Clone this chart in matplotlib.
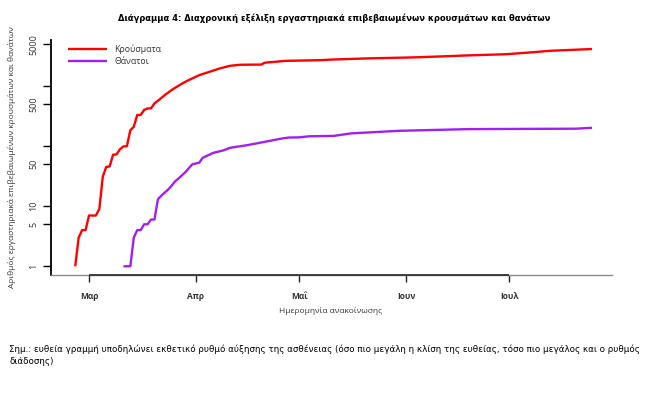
import matplotlib
matplotlib.use('Agg')
import matplotlib.pyplot as plt
import matplotlib.dates as mdates
import numpy as np

# ---------------- data ----------------
case_dates = ['2020-02-26', '2020-02-27', '2020-02-28', '2020-02-29', '2020-03-01',
              '2020-03-03', '2020-03-04', '2020-03-05', '2020-03-06', '2020-03-07',
              '2020-03-08', '2020-03-09', '2020-03-10', '2020-03-11', '2020-03-12',
              '2020-03-13', '2020-03-14', '2020-03-15', '2020-03-16', '2020-03-17',
              '2020-03-18', '2020-03-19', '2020-03-20', '2020-03-21', '2020-03-23',
              '2020-03-25', '2020-03-28', '2020-03-30', '2020-04-02', '2020-04-05',
              '2020-04-08', '2020-04-11', '2020-04-14', '2020-04-20', '2020-04-21',
              '2020-04-27', '2020-05-07', '2020-05-11', '2020-05-21', '2020-06-04',
              '2020-06-19', '2020-06-30', '2020-07-06', '2020-07-13', '2020-07-25']
case_values = [1, 3, 4, 4, 7,
               7, 9, 31, 45, 46,
               72, 73, 89, 99, 100,
               184, 210, 330, 331, 400,
               425, 425, 515, 569, 708,
               860, 1100, 1260, 1520, 1730,
               1970, 2180, 2265, 2280, 2450,
               2630, 2700, 2770, 2890, 3010,
               3240, 3390, 3590, 3870, 4140]

death_dates = ['2020-03-11', '2020-03-13', '2020-03-14', '2020-03-15', '2020-03-16',
               '2020-03-17', '2020-03-18', '2020-03-19', '2020-03-20', '2020-03-21',
               '2020-03-22', '2020-03-24', '2020-03-25', '2020-03-26', '2020-03-27',
               '2020-03-29', '2020-03-31', '2020-04-02', '2020-04-03', '2020-04-06',
               '2020-04-09', '2020-04-11', '2020-04-16', '2020-04-21', '2020-04-26',
               '2020-04-28', '2020-05-01', '2020-05-04', '2020-05-11', '2020-05-16',
               '2020-05-30', '2020-06-19', '2020-07-08', '2020-07-20', '2020-07-25']
death_values = [1, 1, 3, 4, 4,
                5, 5, 6, 6, 13,
                15, 19, 22, 26, 29,
                37, 50, 53, 64, 77,
                85, 94, 104, 118, 134,
                139, 140, 146, 148, 163,
                180, 192, 194, 195, 202]

series_labels = ['Κρούσματα', 'Θάνατοι']
month_ticks = ['2020-03-01', '2020-04-01', '2020-05-01', '2020-06-01', '2020-07-01']
month_labels = ['Μαρ', 'Απρ', 'Μαΐ', 'Ιουν', 'Ιουλ']
y_ticks = [1, 5, 10, 50, 100, 500, 1000, 5000]
y_tick_labels = ['1', '5', '10', '50', '', '500', '', '5000']

title_text = 'Διάγραμμα 4: Διαχρονική εξέλιξη εργαστηριακά επιβεβαιωμένων κρουσμάτων και θανάτων'
x_label = 'Ημερομηνία ανακοίνωσης'
y_label = 'Αριθμός εργαστηριακά επιβεβαιωμένων κρουσμάτων και θανάτων'
note_line1 = ('Σημ.: ευθεία γραμμή υποδηλώνει εκθετικό ρυθμό αύξησης της ασθένειας '
              '(όσο πιο μεγάλη η κλίση της ευθείας, τόσο πιο μεγάλος και ο ρυθμός')
note_line2 = 'διάδοσης)'

# ---------------- figure ----------------
W, H = 647, 396
DPI = 100
plt.rcParams['font.family'] = ['Open Sans', 'DejaVu Sans']
fig = plt.figure(figsize=(W / DPI, H / DPI), dpi=DPI)
fig.patch.set_facecolor('white')

ax_l, ax_r, ax_t, ax_b = 51, 612, 40.3, 275
ax = fig.add_axes([ax_l / W, 1 - ax_b / H, (ax_r - ax_l) / W, (ax_b - ax_t) / H])

cd = np.array(case_dates, dtype='datetime64[D]')
dd = np.array(death_dates, dtype='datetime64[D]')
ax.plot(cd, case_values, color='#ff0000', lw=1.7, solid_joinstyle='round',
        solid_capstyle='butt', label=series_labels[0])
ax.plot(dd, death_values, color='#a020f0', lw=1.7, solid_joinstyle='round',
        solid_capstyle='butt', label=series_labels[1])

ax.set_yscale('log')
ax.set_ylim(10 ** -0.145, 10 ** 3.762)
mar1 = mdates.date2num(np.datetime64(month_ticks[0]))
ax.set_xlim(mar1 - 11.03, mar1 + 151.8)

ax.set_yticks(y_ticks)
ax.set_yticklabels(y_tick_labels)
ax.yaxis.set_minor_locator(matplotlib.ticker.NullLocator())
ax.tick_params(axis='y', which='major', length=6, width=1.0, color='black',
               labelsize=6.5, labelrotation=90, pad=3, labelcolor='#333333')
for lab in ax.get_yticklabels():
    lab.set_va('center')

xt = [mdates.date2num(np.datetime64(m)) for m in month_ticks]
ax.set_xticks(xt)
ax.set_xticklabels(month_labels, fontweight='bold')
ax.tick_params(axis='x', which='major', length=5, width=1.0, color='#222222',
               labelsize=6, pad=7, labelcolor='#333333')

for s in ['top', 'right']:
    ax.spines[s].set_visible(False)
ax.spines['left'].set_color('black')
ax.spines['left'].set_linewidth(1.3)
ax.spines['bottom'].set_color('#8a8a8a')
ax.spines['bottom'].set_linewidth(1.0)
# R-style axis line from first to last tick
ax.plot([xt[0], xt[-1]], [10 ** -0.145] * 2, color='#333333', lw=1.3,
        clip_on=False, solid_capstyle='butt', zorder=5)

leg = ax.legend(loc='upper left', bbox_to_anchor=(68 / W, 1 - 44 / H),
                bbox_transform=fig.transFigure, frameon=False, fontsize=6.3,
                handlelength=4.4, handletextpad=0.9, labelspacing=0.35,
                borderpad=0, borderaxespad=0)
for t in leg.get_texts():
    t.set_color('#333333')

fig.text(331 / W, 1 - 311 / H, x_label, ha='center', va='center', fontsize=6,
         color='#333333')
fig.text(12 / W, 1 - 157 / H, y_label, ha='center', va='center', rotation=90,
         fontsize=6, color='#333333')

title = fig.text(334 / W, 1 - 18 / H, title_text, ha='center', va='center',
                 fontsize=7.5, fontweight='bold', color='black',
                 family=['Liberation Sans Narrow', 'DejaVu Sans'])
note1 = fig.text(9 / W, 1 - 349 / H, note_line1, ha='left', va='center',
                 fontsize=7.5, color='black',
                 family=['Liberation Sans Narrow', 'DejaVu Sans'])
note2 = fig.text(9 / W, 1 - 362 / H, note_line2, ha='left', va='center',
                 fontsize=7.5, color='black',
                 family=['Liberation Sans Narrow', 'DejaVu Sans'])

# fit widths of long texts to the reference
fig.canvas.draw()
r = fig.canvas.get_renderer()
def fit(t, target):
    w = t.get_window_extent(r).width
    return t.get_fontsize() * target / w
fs_title = fit(title, 430)
title.set_fontsize(fs_title)
fs_note = fit(note1, 632)
note1.set_fontsize(fs_note)
note2.set_fontsize(fs_note)

fig.savefig('out.png', dpi=DPI, facecolor='white')
